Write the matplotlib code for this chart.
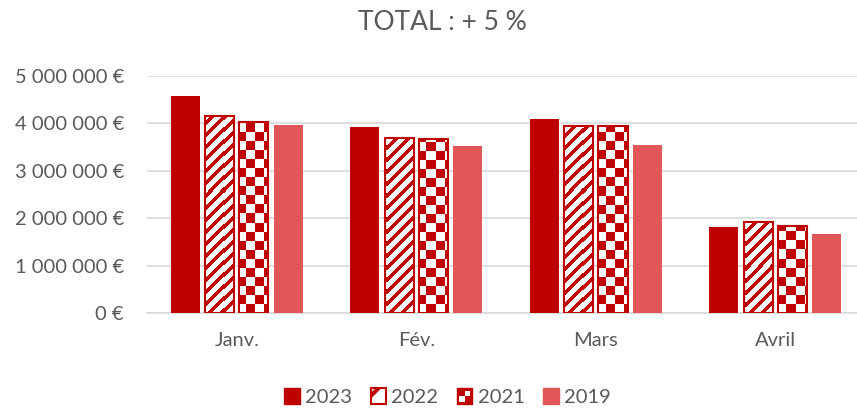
import numpy as np
import matplotlib
matplotlib.use("Agg")
import matplotlib.pyplot as plt
from matplotlib.patches import Rectangle
from matplotlib.legend_handler import HandlerBase
from matplotlib.ticker import FuncFormatter

months = ["Janv.", "Fév.", "Mars", "Avril"]
years = ["2023", "2022", "2021", "2019"]
v2023 = [4580000, 3920000, 4090000, 1810000]
v2022 = [4160000, 3690000, 3950000, 1920000]
v2021 = [4030000, 3670000, 3950000, 1840000]
v2019 = [3970000, 3520000, 3540000, 1670000]
title = "TOTAL : + 5 %"

RED = "#C00000"
LIGHT = "#E15759"
GREY = "#595959"

plt.rcParams["font.family"] = ["Lato", "DejaVu Sans"]

fig = plt.figure(figsize=(8.57, 4.08), dpi=100)
# plot area runs slightly past the right edge (the original chart is cropped)
ax = fig.add_axes([0.1715, 0.233, 0.838, 0.581])

x = np.arange(len(months))
w = 0.162
step = 0.191
offs = [-1.5 * step, -0.5 * step, 0.5 * step, 1.5 * step]

ax.bar(x + offs[0], v2023, w, color=RED, zorder=3)
bars22 = ax.bar(x + offs[1], v2022, w, color="white", zorder=3)
bars21 = ax.bar(x + offs[2], v2021, w, color="white", zorder=3)
ax.bar(x + offs[3], v2019, w, color=LIGHT, zorder=3)

ax.set_xlim(-0.5, len(months) - 0.5)
ax.set_ylim(0, 5000000)

# pixel textures (stripes for 2022, checker for 2021), clipped to each bar
ny, nx = 237, 718
ii, jj = np.mgrid[0:ny, 0:nx]
stripes = (((jj - ii) % 12) < 5).astype(float)
checker = (((ii // 9) + (jj // 9)) % 2).astype(float)
cmap = matplotlib.colors.ListedColormap(["white", RED])
ext = (-0.5, len(months) - 0.5, 0, 5000000)
for bars, tex in [(bars22, stripes), (bars21, checker)]:
    for b in bars:
        im = ax.imshow(tex, cmap=cmap, interpolation="nearest", aspect="auto",
                       extent=ext, origin="lower", zorder=3.5)
        im.set_clip_path(b)
        ax.add_patch(Rectangle(b.get_xy(), b.get_width(), b.get_height(),
                               fill=False, edgecolor=RED, linewidth=1.5,
                               zorder=4))

ax.set_yticks(np.arange(0, 5000001, 1000000))
ax.yaxis.set_major_formatter(FuncFormatter(
    lambda v, p: "{:,.0f} €".format(v).replace(",", " ")))
ax.set_xticks(x)
ax.set_xticklabels(months)
ax.tick_params(axis="both", length=0, labelsize=14.5, colors=GREY)
ax.tick_params(axis="y", pad=16.5)
ax.tick_params(axis="x", pad=14)
ax.grid(axis="y", color="#D9D9D9", linewidth=1.2, zorder=0)
for s in ["top", "right", "left"]:
    ax.spines[s].set_visible(False)
ax.spines["bottom"].set_color("#D9D9D9")
ax.spines["bottom"].set_linewidth(1.2)

fig.suptitle(title, x=0.516, y=0.975, fontsize=19, color=GREY)


class CheckerHandler(HandlerBase):
    def create_artists(self, legend, orig_handle, xd, yd, width, height,
                       fontsize, trans):
        s = min(width, height)
        x0 = -xd + (width - s) / 2
        y0 = -yd + (height - s) / 2
        h = s / 2
        return [
            Rectangle((x0, y0), s, s, facecolor=RED, edgecolor=RED,
                      linewidth=1, transform=trans),
            Rectangle((x0 + 1.5, y0 + 1.5), h - 1.5, h - 1.5,
                      facecolor="white", edgecolor="none", transform=trans),
            Rectangle((x0 + h, y0 + h), h - 1.5, h - 1.5,
                      facecolor="white", edgecolor="none", transform=trans),
        ]


class SquareHandler(HandlerBase):
    def create_artists(self, legend, orig_handle, xd, yd, width, height,
                       fontsize, trans):
        s = min(width, height)
        p = Rectangle((-xd + (width - s) / 2, -yd + (height - s) / 2), s, s)
        p.update_from(orig_handle)
        p.set_transform(trans)
        return [p]


plt.rcParams["hatch.linewidth"] = 3
plt.rcParams["hatch.color"] = RED
h23 = Rectangle((0, 0), 1, 1, facecolor=RED, edgecolor=RED)
h22 = Rectangle((0, 0), 1, 1, facecolor="white", edgecolor=RED, hatch="/",
                linewidth=1.5)
h21 = Rectangle((0, 0), 1, 1)
h19 = Rectangle((0, 0), 1, 1, facecolor=LIGHT, edgecolor=LIGHT)
leg = fig.legend([h23, h22, h21, h19], years, loc="lower center",
                 bbox_to_anchor=(0.522, -0.04), ncol=4, frameon=False,
                 fontsize=14.5, handlelength=0.8, handleheight=0.8,
                 handletextpad=0.25, columnspacing=0.9,
                 handler_map={h21: CheckerHandler(), h23: SquareHandler(),
                              h22: SquareHandler(), h19: SquareHandler()})
for t in leg.get_texts():
    t.set_color(GREY)

fig.savefig("out.png", dpi=100)
